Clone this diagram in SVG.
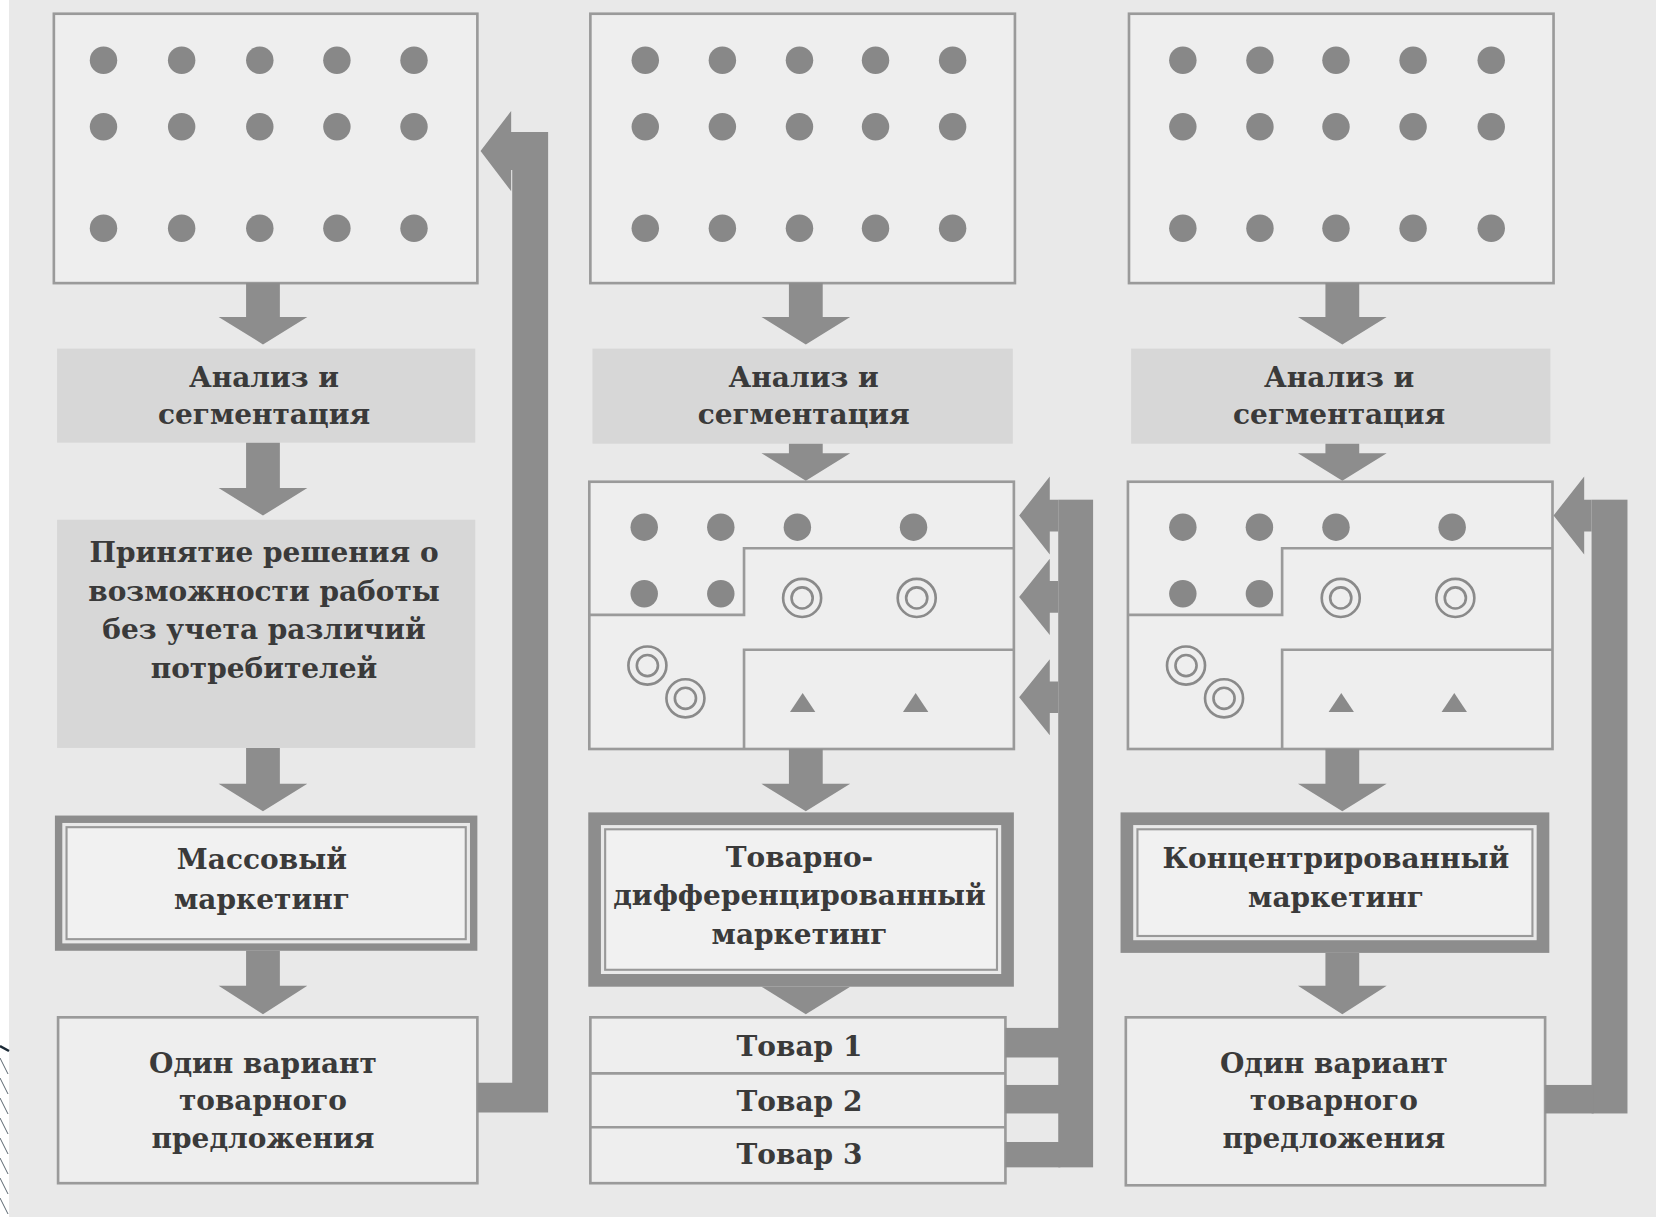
<svg xmlns="http://www.w3.org/2000/svg" width="1656" height="1217" viewBox="0 0 1656 1217">
<style>
.bg{fill:#e9e9e9}
.box{fill:#eeeeee;stroke:#9a9a9a;stroke-width:2.5}
.shade{fill:#d7d7d7}
.dot{fill:#888888}
.arr{fill:#8d8d8d}
.ring{fill:none;stroke:#8a8a8a;stroke-width:2.5}
.ln{fill:none;stroke:#9a9a9a;stroke-width:2.5}
.tri{fill:#8a8a8a}
.band{fill:none;stroke:#8d8d8d}
.inner{fill:#f1f1f1;stroke:#999999;stroke-width:2}
.t{font-family:"DejaVu Serif","Liberation Serif",serif;font-weight:bold;font-size:26.5px;fill:#3a3a3a;text-anchor:middle}
</style>
<rect class="bg" x="0" y="0" width="1656" height="1217"/>
<rect x="0" y="0" width="9" height="1217" fill="#ffffff"/>
<g id="corner-mark" stroke="#4a5560" stroke-width="0.9">
<line x1="0" y1="1046" x2="9" y2="1051" stroke="#1c2a36" stroke-width="2.5"/>
<line x1="0" y1="1058" x2="8" y2="1074"/><line x1="0" y1="1078" x2="8" y2="1094"/><line x1="0" y1="1098" x2="8" y2="1114"/><line x1="0" y1="1118" x2="8" y2="1134"/><line x1="0" y1="1138" x2="8" y2="1154"/><line x1="0" y1="1158" x2="8" y2="1174"/><line x1="0" y1="1178" x2="8" y2="1194"/><line x1="0" y1="1198" x2="8" y2="1214"/>
</g>
<g transform="scale(1.05612,1.05642)">
<!-- Column 1 -->
<g id="market1">
<rect class="box" x="51" y="13" width="401" height="255"/>
<g class="dot">
<circle cx="98" cy="57" r="13"/><circle cx="172" cy="57" r="13"/><circle cx="246" cy="57" r="13"/><circle cx="319" cy="57" r="13"/><circle cx="392" cy="57" r="13"/>
<circle cx="98" cy="120" r="13"/><circle cx="172" cy="120" r="13"/><circle cx="246" cy="120" r="13"/><circle cx="319" cy="120" r="13"/><circle cx="392" cy="120" r="13"/>
<circle cx="98" cy="216" r="13"/><circle cx="172" cy="216" r="13"/><circle cx="246" cy="216" r="13"/><circle cx="319" cy="216" r="13"/><circle cx="392" cy="216" r="13"/>
</g>
</g>
<g id="analysis1">
<rect class="shade" x="54" y="330" width="396" height="89"/>
<text class="t" x="250" y="366">Анализ и</text>
<text class="t" x="250" y="401">сегментация</text>
</g>
<g id="decision1">
<rect class="shade" x="54" y="492" width="396" height="216"/>
<text class="t" x="250" y="532">Принятие решения о</text>
<text class="t" x="250" y="569">возможности работы</text>
<text class="t" x="250" y="605">без учета различий</text>
<text class="t" x="250" y="642">потребителей</text>
</g>
<g id="mass1">
<rect class="band" x="55.5" y="775.5" width="393" height="121" stroke-width="7"/>
<rect class="inner" x="63" y="783" width="378" height="106"/>
<text class="t" x="248" y="823">Массовый</text>
<text class="t" x="248" y="860">маркетинг</text>
</g>
<g id="offer1">
<rect class="box" x="55" y="963" width="397" height="157"/>
<text class="t" x="249" y="1016">Один вариант</text>
<text class="t" x="249" y="1051">товарного</text>
<text class="t" x="249" y="1087">предложения</text>
</g>
<!-- Column 2 -->
<g id="market2">
<rect class="box" x="559" y="13" width="402" height="255"/>
<g class="dot">
<circle cx="611" cy="57" r="13"/><circle cx="684" cy="57" r="13"/><circle cx="757" cy="57" r="13"/><circle cx="829" cy="57" r="13"/><circle cx="902" cy="57" r="13"/>
<circle cx="611" cy="120" r="13"/><circle cx="684" cy="120" r="13"/><circle cx="757" cy="120" r="13"/><circle cx="829" cy="120" r="13"/><circle cx="902" cy="120" r="13"/>
<circle cx="611" cy="216" r="13"/><circle cx="684" cy="216" r="13"/><circle cx="757" cy="216" r="13"/><circle cx="829" cy="216" r="13"/><circle cx="902" cy="216" r="13"/>
</g>
</g>
<g id="analysis2">
<rect class="shade" x="561" y="330" width="398" height="90"/>
<text class="t" x="761" y="366">Анализ и</text>
<text class="t" x="761" y="401">сегментация</text>
</g>
<g id="segments2">
<rect class="box" x="558" y="456" width="402" height="253"/>
<path class="ln" d="M960,519 H704.5 V582 H558 M960,615 H704.5 V709"/>
<g class="dot">
<circle cx="610" cy="499" r="13"/><circle cx="682.5" cy="499" r="13"/><circle cx="755" cy="499" r="13"/><circle cx="865" cy="499" r="13"/>
<circle cx="610" cy="562" r="13"/><circle cx="682.5" cy="562" r="13"/>
</g>
<circle class="ring" cx="759.5" cy="566" r="18"/><circle class="ring" cx="759.5" cy="566" r="10"/>
<circle class="ring" cx="868" cy="566" r="18"/><circle class="ring" cx="868" cy="566" r="10"/>
<circle class="ring" cx="613" cy="630" r="18"/><circle class="ring" cx="613" cy="630" r="10"/>
<circle class="ring" cx="649" cy="661" r="18"/><circle class="ring" cx="649" cy="661" r="10"/>
<polygon class="tri" points="760,656 772,674 748,674"/>
<polygon class="tri" points="867,656 879,674 855,674"/>
</g>
<g id="diff2">
<rect class="band" x="563" y="775" width="391" height="153" stroke-width="12"/>
<rect class="inner" x="573" y="785" width="371" height="133"/>
<text class="t" x="757" y="821">Товарно-</text>
<text class="t" x="757" y="857">дифференцированный</text>
<text class="t" x="757" y="894">маркетинг</text>
</g>
<g id="products2">
<rect class="box" x="559" y="963" width="393" height="157"/>
<path class="ln" d="M559,1016 H952 M559,1067 H952"/>
<text class="t" x="757" y="1000">Товар 1</text>
<text class="t" x="757" y="1052">Товар 2</text>
<text class="t" x="757" y="1102">Товар 3</text>
</g>
<!-- Column 3 -->
<g id="market3">
<rect class="box" x="1069" y="13" width="402" height="255"/>
<g class="dot">
<circle cx="1120" cy="57" r="13"/><circle cx="1193" cy="57" r="13"/><circle cx="1265" cy="57" r="13"/><circle cx="1338" cy="57" r="13"/><circle cx="1412" cy="57" r="13"/>
<circle cx="1120" cy="120" r="13"/><circle cx="1193" cy="120" r="13"/><circle cx="1265" cy="120" r="13"/><circle cx="1338" cy="120" r="13"/><circle cx="1412" cy="120" r="13"/>
<circle cx="1120" cy="216" r="13"/><circle cx="1193" cy="216" r="13"/><circle cx="1265" cy="216" r="13"/><circle cx="1338" cy="216" r="13"/><circle cx="1412" cy="216" r="13"/>
</g>
</g>
<g id="analysis3">
<rect class="shade" x="1071" y="330" width="397" height="90"/>
<text class="t" x="1268" y="366">Анализ и</text>
<text class="t" x="1268" y="401">сегментация</text>
</g>
<g id="segments3">
<rect class="box" x="1068" y="456" width="402" height="253"/>
<path class="ln" d="M1470,519 H1214 V582 H1068 M1470,615 H1214 V709"/>
<g class="dot">
<circle cx="1120" cy="499" r="13"/><circle cx="1192.5" cy="499" r="13"/><circle cx="1265" cy="499" r="13"/><circle cx="1375" cy="499" r="13"/>
<circle cx="1120" cy="562" r="13"/><circle cx="1192.5" cy="562" r="13"/>
</g>
<circle class="ring" cx="1269.5" cy="566" r="18"/><circle class="ring" cx="1269.5" cy="566" r="10"/>
<circle class="ring" cx="1378" cy="566" r="18"/><circle class="ring" cx="1378" cy="566" r="10"/>
<circle class="ring" cx="1123" cy="630" r="18"/><circle class="ring" cx="1123" cy="630" r="10"/>
<circle class="ring" cx="1159" cy="661" r="18"/><circle class="ring" cx="1159" cy="661" r="10"/>
<polygon class="tri" points="1270,656 1282,674 1258,674"/>
<polygon class="tri" points="1377,656 1389,674 1365,674"/>
</g>
<g id="conc3">
<rect class="band" x="1067" y="775" width="394" height="121" stroke-width="12"/>
<rect class="inner" x="1077" y="785" width="374" height="101"/>
<text class="t" x="1265" y="822">Концентрированный</text>
<text class="t" x="1265" y="859">маркетинг</text>
</g>
<g id="offer3">
<rect class="box" x="1066" y="963" width="397" height="159"/>
<text class="t" x="1263" y="1016">Один вариант</text>
<text class="t" x="1263" y="1051">товарного</text>
<text class="t" x="1263" y="1087">предложения</text>
</g>
<!-- Connectors -->
<g id="connectors" class="arr">
<path d="M233,268 H265 V300 H291 L249,326 L207,300 H233 Z"/>
<path d="M233,419 H265 V462 H291 L249,488 L207,462 H233 Z"/>
<path d="M233,708 H265 V742 H291 L249,768 L207,742 H233 Z"/>
<path d="M233,900 H265 V933 H291 L249,960 L207,933 H233 Z"/>
<path d="M452,1025 H485 V161 H484 V181 L455,143 L484,105 V125 H519 V1053 H452 Z"/>
<path d="M747,268 H779 V300 H805 L763,326 L721,300 H747 Z"/>
<path d="M747,420 H779 V429 H805 L763,455 L721,429 H747 Z"/>
<path d="M747,709 H779 V742 H805 L763,768 L721,742 H747 Z"/>
<path d="M721,934 H805 L763,960 Z"/>
<rect x="1002" y="473" width="33" height="632"/>
<path d="M1002,473 H994 V451 L965,488 L994,525 V503 H1002 Z"/>
<path d="M1002,550 H994 V529 L965,565 L994,601 V580 H1002 Z"/>
<path d="M1002,645 H994 V624 L965,660 L994,696 V675 H1002 Z"/>
<rect x="952" y="973" width="52" height="28"/>
<rect x="952" y="1027" width="52" height="27"/>
<rect x="952" y="1081" width="52" height="24"/>
<path d="M1255,268 H1287 V300 H1313 L1271,326 L1229,300 H1255 Z"/>
<path d="M1255,420 H1287 V429 H1313 L1271,455 L1229,429 H1255 Z"/>
<path d="M1255,709 H1287 V742 H1313 L1271,768 L1229,742 H1255 Z"/>
<path d="M1255,902 H1287 V933 H1313 L1271,960 L1229,933 H1255 Z"/>
<rect x="1507" y="473" width="34" height="581"/>
<path d="M1507,473 H1500 V451 L1471,488 L1500,525 V503 H1507 Z"/>
<rect x="1463" y="1027" width="46" height="27"/>
</g>
</g>
</svg>
